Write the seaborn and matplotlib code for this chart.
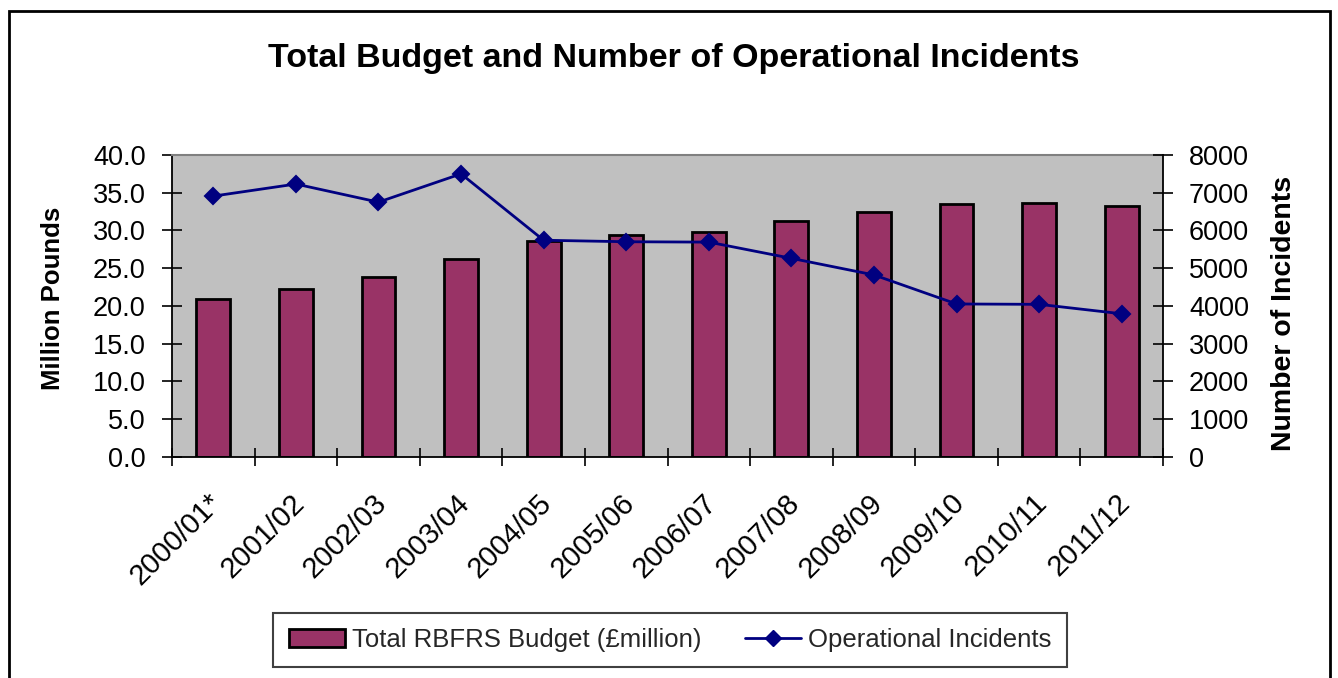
import numpy as np
import matplotlib
matplotlib.use("Agg")
import matplotlib.pyplot as plt
import matplotlib.ticker as mticker
from matplotlib.lines import Line2D
from matplotlib.patches import Patch, Rectangle
from matplotlib.transforms import ScaledTranslation
import seaborn as sns

# Financial years
years = ["2000/01*", "2001/02", "2002/03", "2003/04", "2004/05", "2005/06",
         "2006/07", "2007/08", "2008/09", "2009/10", "2010/11", "2011/12"]
# Total RBFRS budget in £ million
budget = [20.9, 22.3, 23.8, 26.2, 28.6, 29.4, 29.8, 31.3, 32.4, 33.5, 33.7, 33.3]
# Number of operational incidents
incidents = [6910, 7230, 6750, 7500, 5740, 5700, 5690, 5260, 4820, 4050, 4040, 3790]

title = "Total Budget and Number of Operational Incidents"
budget_label = "Total RBFRS Budget (£million)"
incidents_label = "Operational Incidents"
left_axis_title = "Million Pounds"
right_axis_title = "Number of Incidents"

bar_color = "#993366"
line_color = "#000080"

sns.set_theme(style="white")
plt.rcParams["font.family"] = ["Liberation Sans", "DejaVu Sans"]

W, H = 1338, 678
fig = plt.figure(figsize=(W / 100, H / 100), dpi=100)
fig.patch.set_facecolor("white")

# plot area in pixel terms
left, right, top, bottom = 172, 1163, 155, 456.7
ax1 = fig.add_axes([left / W, 1 - bottom / H, (right - left) / W, (bottom - top) / H])
ax1.set_facecolor("#C0C0C0")

sns.barplot(x=years, y=budget, ax=ax1, color=bar_color, saturation=1,
            width=0.41, edgecolor="black", linewidth=2.0, zorder=2)

ax2 = ax1.twinx()
sns.pointplot(x=years, y=incidents, ax=ax2, color=line_color, markers="D",
              linestyles="-", errorbar=None, markersize=8.5, linewidth=2.0)

n = len(years)
ax1.set_xlim(-0.5, n - 0.5)
ax1.set_ylim(0, 40)
ax2.set_ylim(0, 8000)

# left axis
ax1.set_yticks(np.arange(0, 41, 5))
ax1.yaxis.set_major_formatter(mticker.FormatStrFormatter("%.1f"))
ax1.tick_params(axis="y", which="major", direction="inout", length=14, width=1.2,
                pad=12.0, labelsize=19.5, colors="black", left=True)
ax1.set_ylabel(left_axis_title, fontsize=18.5, fontweight="bold", color="black")
ax1.yaxis.set_label_coords(-0.108, 0.524)

# right axis
ax2.set_yticks(np.arange(0, 8001, 1000))
ax2.tick_params(axis="y", which="major", direction="inout", length=14, width=1.2,
                pad=11.8, labelsize=19.5, colors="black", right=True)
ax2.set_ylabel(right_axis_title, fontsize=20.5, fontweight="bold", color="black",
               rotation=90)
ax2.yaxis.set_label_coords(1.109, 0.476)

# category axis: labels at centres, tick marks on boundaries
ax1.set_xticks(np.arange(n))
ax1.set_xticklabels(years)
ax1.set_xticks(np.arange(-0.5, n, 1.0), minor=True)
ax1.tick_params(axis="x", which="major", length=0, pad=23, labelsize=21,
                colors="black", bottom=True)
ax1.tick_params(axis="x", which="minor", direction="inout", length=13, width=1.2,
                color="black", bottom=True)
ax1.set_xlabel("")
ax2.set_xlabel("")

for s in ["left", "bottom"]:
    ax1.spines[s].set_visible(True)
    ax1.spines[s].set_color("black")
    ax1.spines[s].set_linewidth(1.3)
ax1.spines["top"].set_color("#808080")
ax1.spines["top"].set_linewidth(1.5)
ax1.spines["right"].set_visible(False)
for s in ["left", "bottom", "top"]:
    ax2.spines[s].set_visible(False)
ax2.spines["right"].set_visible(True)
ax2.spines["right"].set_color("black")
ax2.spines["right"].set_linewidth(1.3)
ax1.grid(False)
ax2.grid(False)

shift = ScaledTranslation(-6 / 100, 0, fig.dpi_scale_trans)
for lab in ax1.get_xticklabels():
    lab.set_rotation(45)
    lab.set_ha("right")
    lab.set_va("top")
    lab.set_rotation_mode("anchor")
    lab.set_transform(lab.get_transform() + shift)

fig.text(673.5 / W, 1 - 59 / H, title, ha="center", va="center",
         fontsize=24.5, fontweight="bold", color="black")

handles = [
    Patch(facecolor=bar_color, edgecolor="black", linewidth=2.0),
    Line2D([0], [0], color=line_color, linewidth=2.0, marker="D", markersize=8),
]
leg = fig.legend(handles, [budget_label, incidents_label], loc="center",
                 bbox_to_anchor=(670 / W, 1 - 640 / H), ncol=2, frameon=True,
                 fancybox=False, fontsize=18.5, handlelength=2.2,
                 handletextpad=0.25, columnspacing=1.7, borderpad=0.6,
                 borderaxespad=0)
leg.get_frame().set_edgecolor("#404040")
leg.get_frame().set_linewidth(1.5)
leg.get_frame().set_facecolor("white")
leg.get_frame().set_alpha(1)

# outer chart border
fig.patches.append(Rectangle((9 / W, -0.1), (1330 - 9) / W, 0.1 + 1 - 11 / H,
                             transform=fig.transFigure, fill=False,
                             edgecolor="black", linewidth=2.0))

fig.savefig("out.png", dpi=100)
